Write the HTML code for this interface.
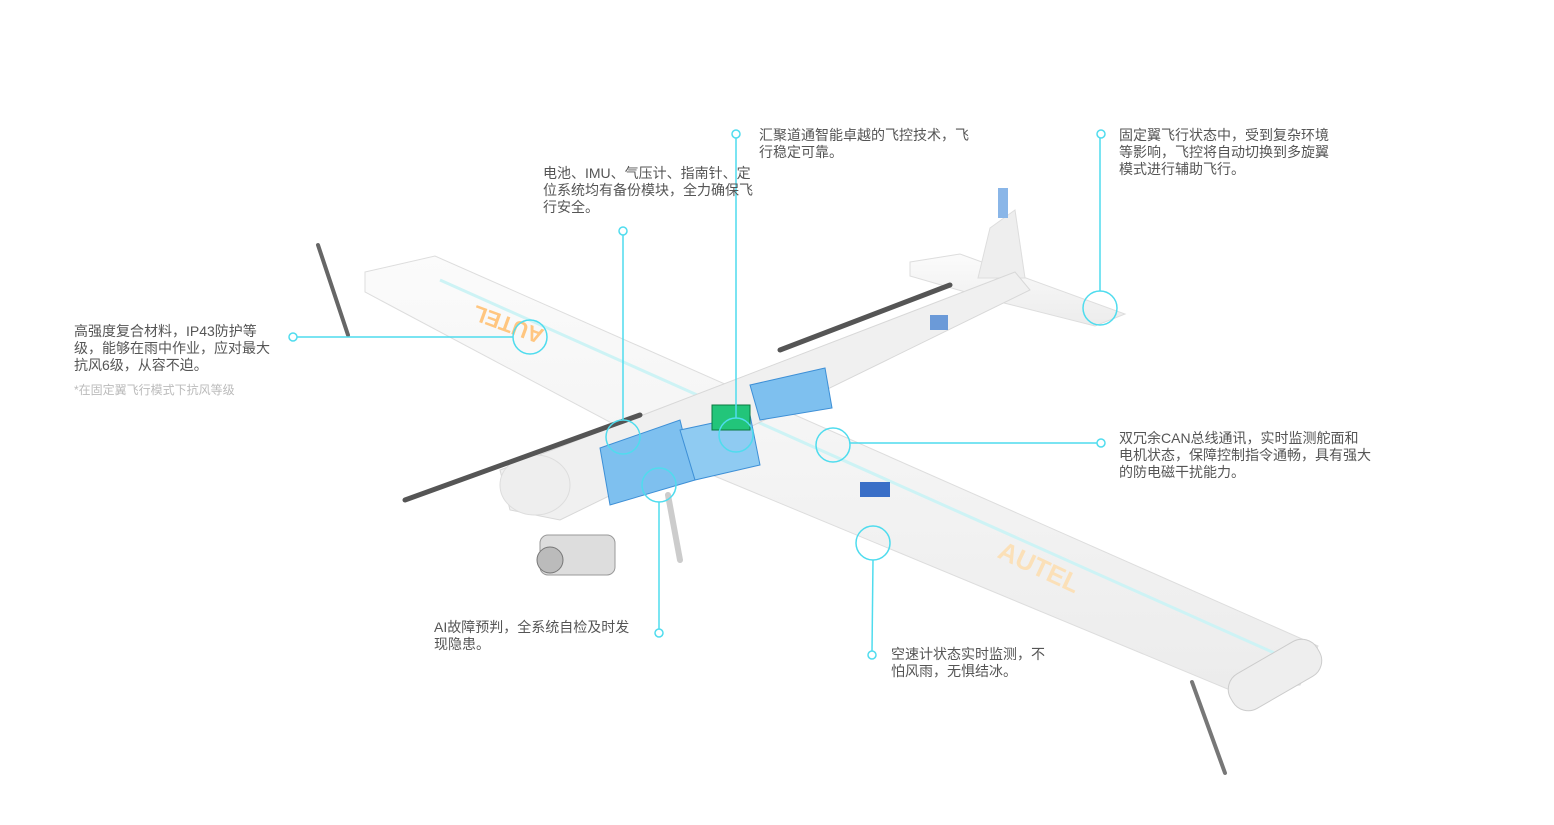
<!DOCTYPE html>
<html><head><meta charset="utf-8"><style>
html,body{margin:0;padding:0;background:#fff;}
body{width:1554px;height:825px;position:relative;overflow:hidden;font-family:"Liberation Sans","Noto Sans CJK SC",sans-serif;}
.t{position:absolute;font-size:14px;line-height:17px;color:#555;white-space:nowrap;}
svg{position:absolute;left:0;top:0;}
</style></head><body>
<svg width="1554" height="825" viewBox="0 0 1554 825">
<defs>
<linearGradient id="wg" x1="0" y1="0" x2="0" y2="1"><stop offset="0" stop-color="#fbfbfb"/><stop offset="1" stop-color="#ececec"/></linearGradient>
</defs>
<line x1="318" y1="245" x2="348" y2="335" stroke="#666" stroke-width="4" stroke-linecap="round"/>
<polygon points="910,262 960,254 1125,314 1095,326 1000,302 910,276" fill="url(#wg)" stroke="#ddd"/>
<polygon points="978,278 990,228 1015,210 1025,278" fill="#eee" stroke="#ddd"/>
<rect x="998" y="188" width="10" height="30" fill="#8ab6e8"/>
<line x1="780" y1="350" x2="950" y2="285" stroke="#555" stroke-width="5" stroke-linecap="round"/>
<polygon points="365,272 435,256 1318,646 1300,685 1230,690 700,470 365,292" fill="url(#wg)" stroke="#ddd"/>
<line x1="440" y1="280" x2="1290" y2="660" stroke="#cdf3f5" stroke-width="3"/>
<polygon points="500,470 1015,272 1030,290 560,520 510,510" fill="#f0f0f0" stroke="#d8d8d8"/>
<ellipse cx="535" cy="485" rx="35" ry="30" fill="#eee" stroke="#ddd"/>
<line x1="405" y1="500" x2="640" y2="415" stroke="#555" stroke-width="5" stroke-linecap="round"/>
<line x1="668" y1="495" x2="680" y2="560" stroke="#ccc" stroke-width="6" stroke-linecap="round"/>
<rect x="540" y="535" width="75" height="40" rx="8" fill="#ddd" stroke="#999"/>
<circle cx="550" cy="560" r="13" fill="#bbb" stroke="#777"/>
<rect x="1225" y="655" width="100" height="40" rx="18" fill="#eee" stroke="#ccc" transform="rotate(-30 1275 675)"/>
<line x1="1192" y1="682" x2="1225" y2="773" stroke="#777" stroke-width="4" stroke-linecap="round"/>
<polygon points="600,448 680,420 695,480 610,505" fill="#7ec0ef" stroke="#3d8fd6"/>
<polygon points="680,430 750,415 760,465 695,480" fill="#8fcbf2" stroke="#3d8fd6"/>
<polygon points="750,385 825,368 832,408 760,420" fill="#7ec0ef" stroke="#3d8fd6"/>
<rect x="712" y="405" width="38" height="25" fill="#22c57a" stroke="#0a7a40"/>
<rect x="860" y="482" width="30" height="15" fill="#3a6fc7"/>
<rect x="930" y="315" width="18" height="15" fill="#6b9ad8"/>
<text x="545" y="330" font-size="22" font-weight="bold" fill="#ffc680" transform="rotate(200 545 330)">AUTEL</text>
<text x="1000" y="540" font-size="26" font-weight="bold" fill="#fbe0b8" transform="rotate(25 960 540)">AUTEL</text>
<g stroke="#4fdcee" stroke-width="1.5" fill="none">
<line x1="297" y1="337" x2="513" y2="337"/>
<line x1="623" y1="235" x2="623" y2="420"/>
<line x1="736" y1="138" x2="736" y2="418"/>
<line x1="1100" y1="138" x2="1100" y2="291"/>
<line x1="850" y1="443" x2="1097" y2="443"/>
<line x1="659" y1="629" x2="659" y2="502"/>
<line x1="872" y1="651" x2="873" y2="560"/>
<circle cx="530" cy="337" r="17"/><circle cx="623" cy="437" r="17"/><circle cx="736" cy="435" r="17"/>
<circle cx="833" cy="445" r="17"/><circle cx="873" cy="543" r="17"/><circle cx="1100" cy="308" r="17"/><circle cx="659" cy="485" r="17"/>
<g fill="#fff"><circle cx="293" cy="337" r="4"/><circle cx="623" cy="231" r="4"/><circle cx="736" cy="134" r="4"/><circle cx="1101" cy="134" r="4"/><circle cx="1101" cy="443" r="4"/><circle cx="659" cy="633" r="4"/><circle cx="872" cy="655" r="4"/></g>
</g>
</svg>
<div class="t" style="left:759px;top:127px;">汇聚道通智能卓越的飞控技术，飞<br>行稳定可靠。</div>
<div class="t" style="left:543px;top:165px;">电池、IMU、气压计、指南针、定<br>位系统均有备份模块，全力确保飞<br>行安全。</div>
<div class="t" style="left:1119px;top:127px;">固定翼飞行状态中，受到复杂环境<br>等影响，飞控将自动切换到多旋翼<br>模式进行辅助飞行。</div>
<div class="t" style="left:74px;top:323px;">高强度复合材料，IP43防护等<br>级，能够在雨中作业，应对最大<br>抗风6级，从容不迫。</div>
<div class="t" style="left:74px;top:382px;font-size:12px;color:#bbb;">*在固定翼飞行模式下抗风等级</div>
<div class="t" style="left:1119px;top:430px;">双冗余CAN总线通讯，实时监测舵面和<br>电机状态，保障控制指令通畅，具有强大<br>的防电磁干扰能力。</div>
<div class="t" style="left:434px;top:619px;">AI故障预判，全系统自检及时发<br>现隐患。</div>
<div class="t" style="left:891px;top:646px;">空速计状态实时监测，不<br>怕风雨，无惧结冰。</div>
</body></html>
